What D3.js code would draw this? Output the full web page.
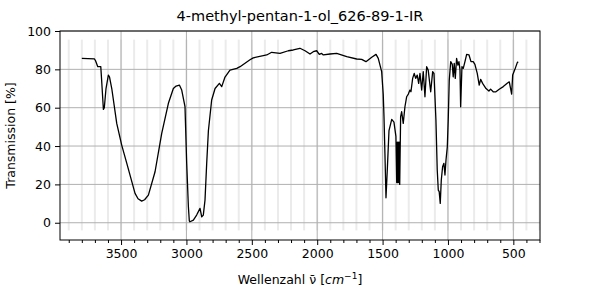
<!DOCTYPE html>
<html>
<head>
<meta charset="utf-8">
<script src="https://cdn.jsdelivr.net/npm/d3@7"></script>
<style>
  body { margin: 0; background: #fff; }
  text { font-family: "DejaVu Sans", sans-serif; }
</style>
</head>
<body>
<svg id="chart" width="600" height="300"></svg>
<script>
// spectrum: wavenumber [cm-1] and transmission [%]
const wavenumbers = [3800, 3704, 3695, 3678, 3655, 3649, 3635, 3628, 3615, 3597, 3588, 3571, 3533, 3495, 3456, 3393, 3370, 3342, 3320, 3291, 3240, 3189, 3138, 3100, 3079, 3054, 3036, 3011, 2998, 2985, 2978, 2973, 2947, 2922, 2896, 2883, 2871, 2858, 2845, 2832, 2807, 2781, 2748, 2730, 2705, 2667, 2615,
  2590, 2514, 2489, 2386, 2348, 2284, 2221, 2183, 2132, 2093, 2055, 2030, 2004, 1984, 1966, 1953, 1902, 1851, 1774, 1698, 1660, 1627, 1583, 1550, 1533, 1507, 1495, 1489, 1482, 1474, 1463, 1451, 1430, 1413, 1398,
  1392, 1388, 1385, 1381, 1377, 1373, 1369, 1362, 1354, 1342, 1329, 1316, 1303, 1291, 1283, 1270, 1258, 1247, 1235, 1224, 1214, 1201, 1189, 1176, 1163, 1151, 1132, 1117, 1107, 1092, 1082, 1074, 1067, 1059, 1051, 1041, 1031, 1023, 1015, 1005, 998, 990, 979, 967, 960, 952, 944, 934, 924, 916, 908, 903, 893, 883, 870, 857, 839, 824, 807, 794, 776, 761, 750, 735, 709, 687, 674, 654, 633, 608, 577, 547, 531, 521, 513, 505, 488, 470, 463];
const transmission = [85.7, 85.5, 84.5, 81.4, 81.4, 75, 59.1, 60, 70, 77, 76, 70, 51.8, 40.5, 31, 15.3, 12.5, 11.3, 12, 14.4, 26.6, 46.6, 62.3, 70, 71.3, 71.8, 69.2, 60.5, 31, 8.3, 1, 0.5, 1.4, 4, 7.5, 3.1, 4, 11.8, 31, 48, 64, 70, 72.7, 71, 76, 79.6, 80.5,
  81.4, 85, 86, 87.5, 88.9, 88.3, 89.7, 90.1, 91, 89.7, 88, 89.2, 89.7, 87.8, 88.3, 87.5, 88, 88.3, 86.6, 85.4, 85.2, 84, 86.3, 87.8, 85.7, 78.8, 67, 55, 36, 13, 29, 48, 53.9, 52.5, 45,
  21, 42, 21, 42, 21, 42, 20, 55.3, 57.9, 51.8, 60.5, 65.7, 67.1, 69.2, 68.3, 75.3, 77.9, 75.3, 77, 72.7, 77.9, 69.2, 78.8, 65.7, 81.4, 79.6, 68.3, 78.8, 77.9, 53.6, 27.5, 17, 16.2, 10.1, 22.3, 29.2, 31, 24.9, 32.7, 39.6, 53.6, 74.4, 84, 82.6, 76.1, 83.1, 75.3, 85.7, 82.2, 84, 79.6, 60.5, 81.4, 80.5, 84, 87.8, 87.5, 84, 84, 82.6, 77.9, 71.8, 74.8, 72.7, 70, 68.7, 69.7, 68.3, 68.3, 69.6, 71, 72.7, 73.5, 70, 67.1, 77, 80, 83.5, 84];

const xTicks = [3500, 3000, 2500, 2000, 1500, 1000, 500];
const yTicks = [0, 20, 40, 60, 80, 100];
const title = "4-methyl-pentan-1-ol_626-89-1-IR";

const svg = d3.select("#chart");
const mLeft = 60, mRight = 540, mTop = 31, mBottom = 240;

// x reversed, 5% padding like matplotlib
let ext = d3.extent(wavenumbers);
let pad = (ext[1] - ext[0]) * 0.05;
const x = d3.scaleLinear().domain([ext[1] + pad, ext[0] - pad]).range([mLeft, mRight]);
const y = d3.scaleLinear().domain([-9, 100]).range([mBottom, mTop]);

let minorTicks = d3.range(300, 4000, 100).filter(v => v <= x.domain()[0] && v >= x.domain()[1]);

// minor vertical grid
svg.append("g").selectAll("line").data(minorTicks).join("line")
    .attr("x1", d => x(d)).attr("x2", d => x(d))
    .attr("y1", y(-4)).attr("y2", y(95.5))
    .attr("stroke", "#ebebeb").attr("stroke-width", 2);

// major grid
svg.append("g").selectAll("line").data(xTicks).join("line")
    .attr("x1", d => x(d)).attr("x2", d => x(d))
    .attr("y1", mTop).attr("y2", mBottom)
    .attr("stroke", "#b0b0b0").attr("stroke-width", 1);
svg.append("g").selectAll("line").data(yTicks).join("line")
    .attr("x1", mLeft).attr("x2", mRight)
    .attr("y1", d => y(d)).attr("y2", d => y(d))
    .attr("stroke", "#b0b0b0").attr("stroke-width", 1);

// spectrum
let pts = wavenumbers.map((w, i) => [w, transmission[i]]);
svg.append("path")
    .datum(pts)
    .attr("fill", "none")
    .attr("stroke", "#000")
    .attr("stroke-width", 1.3)
    .attr("stroke-linejoin", "round")
    .attr("d", d3.line().x(d => x(d[0])).y(d => y(d[1])));

// axes
svg.append("g")
    .attr("transform", "translate(0," + mBottom + ")")
    .call(d3.axisBottom(x).tickValues(xTicks).tickSize(5).tickPadding(4).tickFormat(d3.format("d")));
svg.append("g")
    .attr("transform", "translate(0," + mBottom + ")")
    .call(d3.axisBottom(x).tickValues(minorTicks.filter(v => !xTicks.includes(v))).tickSize(3).tickFormat(""));
svg.append("g")
    .attr("transform", "translate(" + mLeft + ",0)")
    .call(d3.axisLeft(y).tickValues(yTicks).tickSize(5).tickPadding(4));
svg.selectAll(".tick text").attr("font-size", 12.5).attr("fill", "#000").attr("font-family", "DejaVu Sans");
svg.selectAll(".domain").remove();

// frame
svg.append("rect")
    .attr("x", mLeft).attr("y", mTop)
    .attr("width", mRight - mLeft).attr("height", mBottom - mTop)
    .attr("fill", "none").attr("stroke", "#000").attr("stroke-width", 1);

svg.append("text")
    .attr("x", (mLeft + mRight) / 2).attr("y", 21)
    .attr("text-anchor", "middle").attr("font-size", 14.5)
    .text(title);

svg.append("text")
    .attr("transform", "translate(15," + (mTop + mBottom) / 2 + ") rotate(-90)")
    .attr("text-anchor", "middle").attr("font-size", 12.5)
    .text("Transmission [%]");

let xl = svg.append("text")
    .attr("x", (mLeft + mRight) / 2).attr("y", 284)
    .attr("text-anchor", "middle").attr("font-size", 12.5);
xl.append("tspan").text("Wellenzahl \u03BD\u0304 [");
xl.append("tspan").attr("font-style", "italic").text("cm");
xl.append("tspan").attr("dy", -5).attr("font-size", 9).text("\u22121");
xl.append("tspan").attr("dy", 5).text("]");
</script>
</body>
</html>
